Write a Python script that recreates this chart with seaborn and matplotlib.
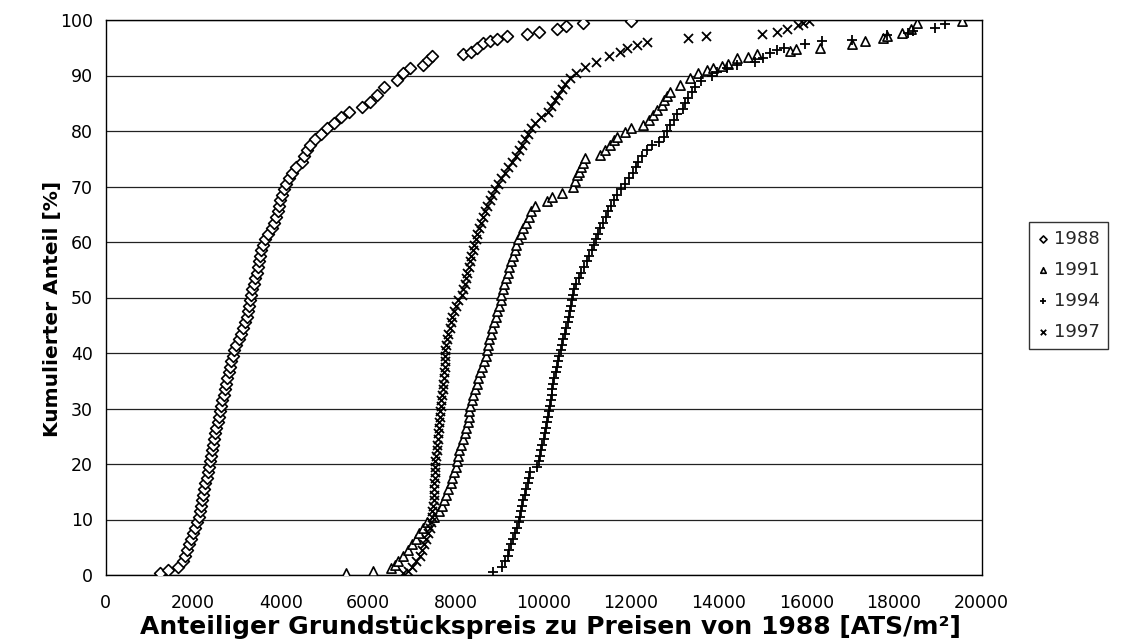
import numpy as np
import pandas as pd
import matplotlib
matplotlib.use("Agg")
import matplotlib.pyplot as plt
import seaborn as sns

# ---------------- data ----------------
x_1988 = [1244, 1420, 1663, 1780, 1820, 1850, 1900, 1950, 2005, 2040, 2090, 2130, 2150, 2175,
          2195, 2220, 2250, 2280, 2310, 2340, 2370, 2395, 2420, 2440, 2460, 2480, 2500, 2530,
          2560, 2590, 2620, 2645, 2670, 2695, 2725, 2750, 2780, 2810, 2840, 2870, 2900, 2935,
          2980, 3040, 3090, 3140, 3180, 3220, 3245, 3275, 3300, 3325, 3350, 3380, 3420, 3450,
          3475, 3500, 3530, 3555, 3590, 3640, 3700, 3795, 3840, 3890, 3930, 3965, 3995, 4030,
          4080, 4120, 4180, 4260, 4340, 4480, 4540, 4590, 4680, 4780, 4920, 5050, 5210, 5370,
          5560, 5850, 6040, 6190, 6360, 6650, 6800, 6950, 7260, 7370, 7450, 8155, 8338, 8475,
          8626, 8779, 8932, 9174, 9631, 9905, 10301, 10514, 10895, 11998]
y_1988 = [0.4, 0.9, 1.5, 2.5, 3.5, 4.5, 5.5, 6.5, 7.5, 8.5, 9.5, 10.5, 11.5, 12.5,
          13.5, 14.5, 15.5, 16.5, 17.5, 18.5, 19.5, 20.5, 21.5, 22.5, 23.5, 24.5, 25.5, 26.5,
          27.5, 28.5, 29.5, 30.5, 31.5, 32.5, 33.5, 34.5, 35.5, 36.5, 37.5, 38.5, 39.5, 40.5,
          41.5, 42.5, 43.5, 44.5, 45.5, 46.5, 47.5, 48.5, 49.5, 50.5, 51.5, 52.5, 53.5, 54.5,
          55.5, 56.5, 57.5, 58.5, 59.5, 60.5, 61.5, 62.5, 63.5, 64.5, 65.5, 66.5, 67.5, 68.5,
          69.5, 70.5, 71.5, 72.5, 73.5, 74.5, 75.5, 76.5, 77.5, 78.5, 79.5, 80.5, 81.5, 82.5,
          83.5, 84.4, 85.2, 86.5, 88.0, 89.2, 90.4, 91.4, 91.9, 92.8, 93.6, 93.8, 94.3, 94.9,
          95.8, 96.2, 96.6, 97.1, 97.5, 97.9, 98.3, 98.9, 99.5, 99.9]

x_1991 = [5500, 6100, 6520, 6600, 6680, 6800, 6900, 7000, 7080, 7150, 7250, 7350, 7500, 7620,
          7680, 7730, 7770, 7820, 7880, 7920, 7960, 8000, 8030, 8055, 8080, 8110, 8160, 8208,
          8240, 8270, 8290, 8310, 8330, 8360, 8400, 8440, 8475, 8510, 8550, 8600, 8650, 8690,
          8710, 8730, 8760, 8790, 8815, 8860, 8910, 8930, 8980, 9030, 9040, 9070, 9100, 9140,
          9180, 9220, 9260, 9300, 9340, 9380, 9420, 9480, 9530, 9590, 9660, 9720, 9800, 10070,
          10200, 10415, 10680, 10720, 10760, 10800, 10850, 10900, 10950, 11290, 11400, 11520,
          11600, 11670, 11850, 12000, 12280, 12400, 12500, 12600, 12700, 12760, 12820, 12890,
          13120, 13345, 13535, 13726, 13880, 14070, 14220, 14410, 14680, 14870, 15630, 15770,
          16310, 17040, 17340, 17760, 17850, 18180, 18400, 18520, 19550]
y_1991 = [0.3, 0.8, 1.3, 1.8, 2.5, 3.5, 4.5, 5.5, 6.5, 7.5, 8.5, 9.5, 10.5, 11.5,
          12.5, 13.5, 14.5, 15.5, 16.5, 17.5, 18.5, 19.5, 20.5, 21.5, 22.5, 23.5, 24.5, 25.5,
          26.5, 27.5, 28.5, 29.5, 30.5, 31.5, 32.5, 33.5, 34.5, 35.5, 36.5, 37.5, 38.5, 39.5,
          40.5, 41.5, 42.5, 43.5, 44.5, 45.5, 46.5, 47.5, 48.5, 49.5, 50.5, 51.5, 52.5, 53.5,
          54.5, 55.5, 56.5, 57.5, 58.5, 59.5, 60.5, 61.5, 62.5, 63.5, 64.5, 65.5, 66.5, 67.3,
          68.1, 68.8, 70.0, 71.0, 72.0, 72.7, 73.5, 74.3, 75.1, 75.7, 76.5, 77.5,
          78.3, 79.0, 79.8, 80.6, 81.1, 82.0, 82.9, 83.8, 84.7, 85.5, 86.3, 87.1,
          88.3, 89.5, 90.4, 91.0, 91.3, 91.8, 92.1, 93.1, 93.4, 93.8, 94.4, 94.8,
          95.0, 95.6, 96.2, 96.7, 97.2, 97.6, 98.4, 99.4, 99.8]

x_1994 = [8855, 9046, 9120, 9180, 9220, 9260, 9310, 9349, 9390, 9430, 9460, 9490, 9515, 9540,
          9575, 9610, 9640, 9670, 9700, 9860, 9900, 9920, 9940, 9970, 10000, 10034, 10060,
          10085, 10110, 10135, 10155, 10175, 10190, 10205, 10224, 10250, 10280, 10310, 10340,
          10365, 10390, 10420, 10450, 10485, 10520, 10550, 10580, 10600, 10620, 10640, 10665,
          10700, 10750, 10810, 10860, 10920, 10990, 11050, 11100, 11150, 11200, 11250, 11300,
          11360, 11420, 11480, 11550, 11610, 11680, 11780, 11860, 11950, 12040, 12110, 12166,
          12250, 12360, 12480, 12630, 12740, 12813, 12880, 12980, 13050, 13180, 13240, 13300,
          13380, 13470, 13600, 13850, 13960, 14200, 14410, 14830, 15020, 15170, 15320, 15480,
          15970, 16350, 17040, 17840, 18330, 18440, 18940, 19170]
y_1994 = [0.6, 1.5, 2.5, 3.5, 4.5, 5.5, 6.5, 7.5, 8.5, 9.5, 10.5, 11.5, 12.5, 13.5,
          14.5, 15.5, 16.5, 17.5, 18.5, 19.5, 20.5, 21.5, 22.5, 23.5, 24.5, 25.5, 26.5,
          27.5, 28.5, 29.5, 30.5, 31.5, 32.5, 33.5, 34.5, 35.5, 36.5, 37.5, 38.5,
          39.5, 40.5, 41.5, 42.5, 43.5, 44.5, 45.5, 46.5, 47.5, 48.5, 49.5, 50.5,
          51.5, 52.5, 53.5, 54.5, 55.5, 56.5, 57.5, 58.5, 59.5, 60.5, 61.5, 62.5,
          63.5, 64.5, 65.5, 66.5, 67.5, 68.5, 69.5, 70.5, 71.5, 72.5, 73.5, 74.5,
          75.5, 76.5, 77.5, 78.1, 79.0, 80.0, 81.0, 82.0, 83.0, 84.0, 85.0, 86.0,
          87.0, 88.0, 89.0, 90.0, 90.7, 91.3, 91.9, 92.5, 93.2, 94.0, 94.6, 94.9,
          95.6, 96.2, 96.4, 97.3, 97.6, 98.0, 98.5, 99.2]

x_1997 = [6800, 6900, 7000, 7100, 7170, 7220, 7270, 7320, 7370, 7400, 7430, 7450, 7465, 7480,
          7490, 7500, 7505, 7510, 7515, 7520, 7525, 7530, 7545, 7560, 7575, 7590, 7600, 7615,
          7625, 7635, 7645, 7655, 7670, 7685, 7700, 7713, 7720, 7730, 7740, 7745, 7750, 7760,
          7780, 7805, 7830, 7860, 7890, 7920, 7960, 8000, 8040, 8140, 8170, 8200, 8230, 8260,
          8290, 8320, 8350, 8380, 8420, 8450, 8490, 8530, 8570, 8610, 8660, 8710, 8770, 8830,
          8900, 8970, 9040, 9110, 9190, 9270, 9370, 9440, 9510, 9580, 9650, 9720, 9800, 9950,
          10100, 10180, 10260, 10340, 10420, 10500, 10600, 10740, 10950, 11200, 11500, 11750,
          11900, 12130, 12360, 13300, 13700, 14980, 15320, 15550, 15820, 15930, 16070]
y_1997 = [0.3, 0.8, 1.5, 2.5, 3.5, 4.5, 5.5, 6.5, 7.5, 8.5, 9.5, 10.5, 11.5, 12.5,
          13.5, 14.5, 15.5, 16.5, 17.5, 18.5, 19.5, 20.5, 21.5, 22.5, 23.5, 24.5, 25.5, 26.5,
          27.5, 28.5, 29.5, 30.5, 31.5, 32.5, 33.5, 34.5, 35.5, 36.5, 37.5, 38.5, 39.5, 40.5,
          41.5, 42.5, 43.5, 44.5, 45.5, 46.5, 47.5, 48.5, 49.5, 50.5, 51.5, 52.5, 53.5, 54.5,
          55.5, 56.5, 57.5, 58.5, 59.5, 60.5, 61.5, 62.5, 63.5, 64.5, 65.5, 66.5, 67.5, 68.5,
          69.5, 70.5, 71.5, 72.5, 73.5, 74.5, 75.5, 76.5, 77.5, 78.5, 79.5, 80.5, 81.5, 82.5,
          83.5, 84.5, 85.5, 86.5, 87.5, 88.5, 89.5, 90.5, 91.5, 92.5, 93.5, 94.3,
          94.9, 95.5, 96.1, 96.8, 97.1, 97.4, 97.9, 98.4, 99.1, 99.4, 99.9]

years = ["1988", "1991", "1994", "1997"]
x_ticks = [0, 2000, 4000, 6000, 8000, 10000, 12000, 14000, 16000, 18000, 20000]
y_ticks = [0, 10, 20, 30, 40, 50, 60, 70, 80, 90, 100]

# ---------------- styling ----------------
sns.set_theme(style="white")
plt.rcParams["font.family"] = ["DejaVu Sans"]

fig = plt.figure(figsize=(11.24, 6.44), dpi=100)
ax = fig.add_axes([105.5 / 1124, 69 / 644, 876 / 1124, 555 / 644])
ax.set_facecolor("white")

series = {
    "1988": (x_1988, y_1988, "D", dict(facecolor="white", edgecolor="black", linewidth=1.2, s=36)),
    "1991": (x_1991, y_1991, "^", dict(facecolor="white", edgecolor="black", linewidth=1.2, s=44)),
    "1994": (x_1994, y_1994, "+", dict(color="black", linewidth=1.3, s=50)),
    "1997": (x_1997, y_1997, "x", dict(color="black", linewidth=1.3, s=42)),
}

for yr in years:
    xs, ys, mk, kw = series[yr]
    df = pd.DataFrame({"x": xs, "y": ys})
    sns.scatterplot(data=df, x="x", y="y", marker=mk, ax=ax, label=yr, zorder=3, **kw)

ax.set_xlim(0, 20000)
ax.set_ylim(0, 100)
ax.set_xticks(x_ticks)
ax.set_yticks(y_ticks)
ax.set_xticklabels([str(t) for t in x_ticks])
ax.set_yticklabels([str(t) for t in y_ticks])
ax.yaxis.grid(True, color="#222222", linewidth=0.9)
ax.xaxis.grid(False)
ax.set_axisbelow(True)
for sp in ax.spines.values():
    sp.set_color("black")
    sp.set_linewidth(1.0)
ax.tick_params(axis="both", direction="out", length=6, width=1, color="black",
               labelsize=12.5, labelcolor="black", pad=3)
ax.tick_params(axis="x", pad=8)

ax.set_xlabel("Anteiliger Grundstückspreis zu Preisen von 1988 [ATS/m²]",
              fontsize=18, fontweight="bold", color="black")
ax.xaxis.set_label_coords(0.5074, -0.0945)
ax.xaxis.label.set_va("center")
ax.set_ylabel("Kumulierter Anteil [%]", fontsize=14.5, fontweight="bold", color="black")
ax.yaxis.set_label_coords(-0.061, 0.48)
ax.yaxis.label.set_va("center")

leg = ax.legend(loc="upper left", bbox_to_anchor=(1029 / 1124, 1 - 222 / 644),
                bbox_transform=fig.transFigure, frameon=True, fancybox=False,
                edgecolor="black", fontsize=13, markerscale=0.6, handletextpad=0.25,
                borderpad=0.45, labelspacing=0.72, handlelength=0.7, borderaxespad=0)
leg.get_frame().set_linewidth(1.0)

fig.savefig("out.png", dpi=100, facecolor="white")
